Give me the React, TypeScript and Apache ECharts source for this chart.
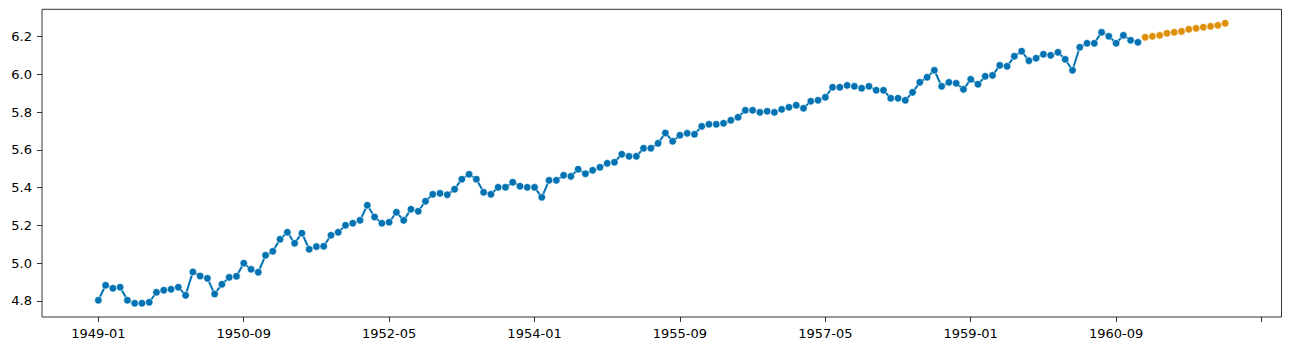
import React, { useEffect, useRef } from "react";
import * as echarts from "echarts";

// Observed monthly values, 1949-01 .. 1960-12
const observed: number[] = [
  4.804, 4.883, 4.867, 4.873, 4.804, 4.788, 4.788, 4.793, 4.846, 4.857, 4.862, 4.873,
  4.830, 4.954, 4.932, 4.920, 4.837, 4.888, 4.925, 4.931, 5.000, 4.968, 4.952, 5.042,
  5.063, 5.127, 5.164, 5.106, 5.159, 5.074, 5.088, 5.090, 5.148, 5.164, 5.201, 5.212,
  5.227, 5.307, 5.245, 5.212, 5.217, 5.270, 5.227, 5.286, 5.275, 5.328, 5.365, 5.370,
  5.363, 5.392, 5.445, 5.471, 5.445, 5.376, 5.365, 5.402, 5.402, 5.429, 5.408, 5.402,
  5.402, 5.349, 5.439, 5.439, 5.466, 5.460, 5.498, 5.474, 5.492, 5.508, 5.529, 5.535,
  5.577, 5.566, 5.566, 5.609, 5.609, 5.635, 5.690, 5.646, 5.678, 5.688, 5.683, 5.725,
  5.736, 5.736, 5.741, 5.757, 5.773, 5.810, 5.810, 5.799, 5.805, 5.799, 5.815, 5.826,
  5.837, 5.821, 5.858, 5.863, 5.879, 5.932, 5.932, 5.942, 5.937, 5.927, 5.937, 5.916,
  5.916, 5.874, 5.874, 5.863, 5.905, 5.958, 5.985, 6.022, 5.937, 5.958, 5.953, 5.921,
  5.974, 5.948, 5.990, 5.995, 6.048, 6.043, 6.096, 6.123, 6.073, 6.086, 6.107, 6.101,
  6.117, 6.080, 6.022, 6.144, 6.165, 6.165, 6.223, 6.202, 6.165, 6.207, 6.181, 6.170,
];

// Forecast values, 1961-01 .. 1961-12
const forecast: number[] = [
  6.197, 6.202, 6.207, 6.218, 6.223, 6.228, 6.239, 6.244, 6.250, 6.255, 6.260, 6.271,
];

// X tick positions (month index from 1949-01) and labels
const xTickIndex: number[] = [0, 20, 40, 60, 80, 100, 120, 140, 160];
const xTickLabels: string[] = [
  "1949-01", "1950-09", "1952-05", "1954-01", "1955-09", "1957-05", "1959-01", "1960-09", "",
];
const yTicks: number[] = [4.8, 5.0, 5.2, 5.4, 5.6, 5.8, 6.0, 6.2];

export default function App() {
  const ref = useRef<HTMLDivElement>(null);
  useEffect(() => {
    if (!ref.current) return;
    const chart = echarts.init(ref.current, undefined, { renderer: "svg" });
    const font = "DejaVu Sans";
    chart.setOption({
      animation: false,
      grid: {
        left: 42,
        right: 9.5,
        top: 9.3,
        bottom: 34,
        show: true,
        borderColor: "#000",
        borderWidth: 0.8,
        containLabel: false,
      },
      xAxis: {
        type: "value",
        min: -7.75,
        max: 162.75,
        splitLine: { show: false },
        axisLine: { show: false, onZero: false },
        axisTick: {
          show: true,
          customValues: xTickIndex,
          length: 5,
          lineStyle: { color: "#000", width: 0.8 },
        },
        axisLabel: {
          customValues: xTickIndex,
          margin: 10,
          color: "#000",
          fontFamily: font,
          fontSize: 13,
          formatter: (v: number) => {
            const k = xTickIndex.indexOf(Math.round(v));
            return k >= 0 ? xTickLabels[k] : "";
          },
        },
      },
      yAxis: {
        type: "value",
        min: 4.715,
        max: 6.345,
        splitLine: { show: false },
        axisLine: { show: false, onZero: false },
        axisTick: {
          show: true,
          customValues: yTicks,
          length: 5,
          lineStyle: { color: "#000", width: 0.8 },
        },
        axisLabel: {
          customValues: yTicks,
          margin: 10,
          color: "#000",
          fontFamily: font,
          fontSize: 13,
          formatter: (v: number) => v.toFixed(1),
        },
      },
      series: [
        {
          type: "line",
          data: observed.map((v, i) => [i, v]),
          symbol: "circle",
          symbolSize: 7.5,
          showSymbol: true,
          lineStyle: { color: "#0173b2", width: 2 },
          itemStyle: { color: "#0173b2", borderColor: "#fff", borderWidth: 0.6 },
        },
        {
          type: "line",
          data: forecast.map((v, i) => [observed.length + i, v]),
          symbol: "circle",
          symbolSize: 7.5,
          showSymbol: true,
          lineStyle: { color: "#de8f05", width: 2 },
          itemStyle: { color: "#de8f05", borderColor: "#fff", borderWidth: 0.6 },
        },
      ],
    });
    return () => chart.dispose();
  }, []);
  return (
    <div
      ref={ref}
      style={{ position: "fixed", left: 0, top: 0, width: 1291, height: 351, background: "#fff" }}
    />
  );
}
